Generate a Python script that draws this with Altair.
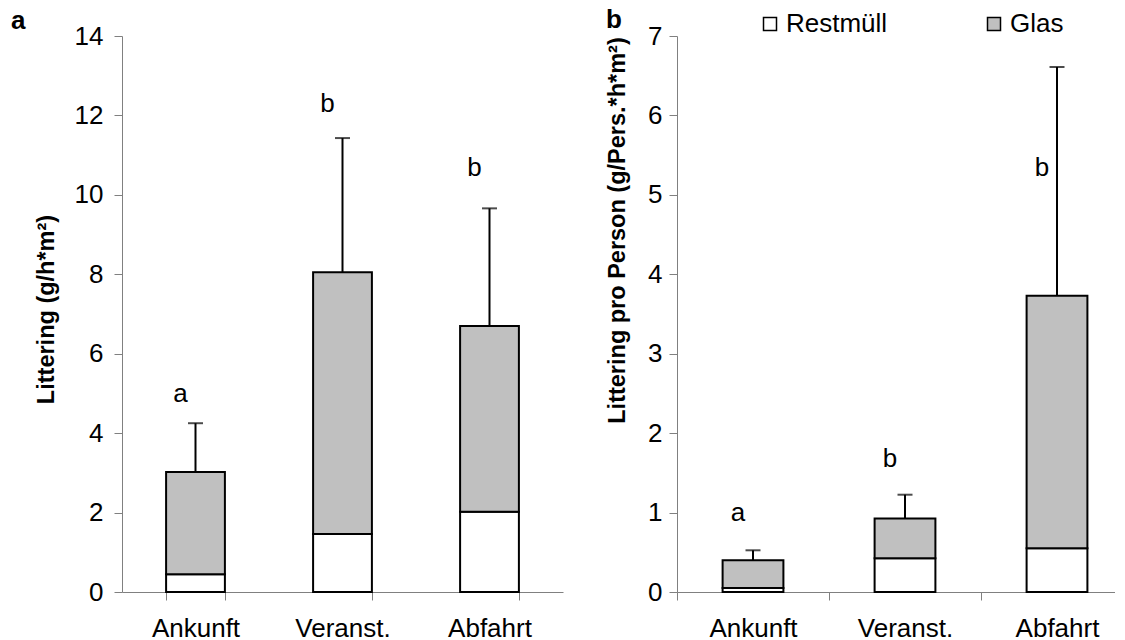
import altair as alt
import pandas as pd

categories = ["Ankunft", "Veranst.", "Abfahrt"]
series = ["Restmüll", "Glas"]
series_colors = ["#ffffff", "#c0c0c0"]

# Panel a: Littering (g/h*m²)
a_restmuell = [0.45, 1.46, 2.02]
a_glas = [2.57, 6.59, 4.68]
a_sd = [1.23, 3.38, 2.96]
a_letters = ["a", "b", "b"]
a_letter_y = [4.79, 12.09, 10.47]
a_ticks = [0, 2, 4, 6, 8, 10, 12, 14]

# Panel b: Littering pro Person (g/Pers.*h*m²)
b_restmuell = [0.05, 0.425, 0.55]
b_glas = [0.35, 0.50, 3.18]
b_sd = [0.125, 0.30, 2.88]
b_letters = ["a", "b", "b"]
b_letter_y = [0.90, 1.57, 5.24]
b_ticks = [0, 1, 2, 3, 4, 5, 6, 7]

FONT = "Liberation Sans"
FS = 26
TFS = 23.5
GRAY = "#808080"


def panel(rest, glas, sd, letters, letter_y, ticks, ytitle, ptitle, xscale,
          xaxis, title_x, title_y, label_pad, title_dx, title_dy, legend, w, h):
    bars_df = pd.DataFrame({
        "cat": categories * 2,
        "serie": [series[0]] * 3 + [series[1]] * 3,
        "value": list(rest) + list(glas),
        "ord": [0] * 3 + [1] * 3,
    })
    totals = [r + g for r, g in zip(rest, glas)]
    sum_df = pd.DataFrame({
        "cat": categories,
        "total": totals,
        "top": [t + s for t, s in zip(totals, sd)],
        "letter": letters,
        "ly": letter_y,
    })
    yscale = alt.Scale(domain=[ticks[0], ticks[-1]], nice=False, zero=True,
                       padding=0)
    x = alt.X("cat:N", sort=categories, scale=xscale, axis=xaxis, title=None)
    bars = alt.Chart(bars_df).mark_bar(stroke="black", strokeWidth=2).encode(
        x=x,
        y=alt.Y("value:Q", stack="zero", scale=yscale,
                axis=alt.Axis(values=ticks, format="d", grid=False, tickSize=8,
                              labelPadding=label_pad, labelFontSize=FS,
                              labelColor="black", domainColor=GRAY,
                              tickColor=GRAY, domainWidth=1, tickWidth=1,
                              title=ytitle, titleFontSize=TFS,
                              titleFontWeight="bold", titleColor="black",
                              titleAngle=-90, titleAlign="center",
                              titleBaseline="alphabetic",
                              titleX=title_x, titleY=title_y)),
        color=alt.Color("serie:N", sort=series,
                        scale=alt.Scale(domain=series, range=series_colors),
                        legend=legend),
        order=alt.Order("ord:Q"),
    )
    err = alt.Chart(sum_df).mark_rule(color="black", strokeWidth=2).encode(
        x=alt.X("cat:N", sort=categories),
        y=alt.Y("total:Q"),
        y2="top:Q",
    )
    cap = alt.Chart(sum_df).mark_tick(color="black", thickness=2, size=15).encode(
        x=alt.X("cat:N", sort=categories),
        y=alt.Y("top:Q"),
    )
    txt = alt.Chart(sum_df).mark_text(fontSize=FS, dx=-15, baseline="alphabetic",
                                      align="center", color="black").encode(
        x=alt.X("cat:N", sort=categories),
        y=alt.Y("ly:Q"),
        text="letter:N",
    )
    return alt.layer(bars, err, cap, txt).properties(
        width=w, height=h,
        title=alt.TitleParams(ptitle, anchor="start", frame="group",
                              fontSize=FS, fontWeight="bold", color="black",
                              dx=title_dx, dy=title_dy, offset=0,
                              baseline="alphabetic"),
    )


xa_scale = alt.Scale(paddingInner=0.6, paddingOuter=0.3, align=0.5, round=False)
xa_axis = alt.Axis(tickBand="extent", tickSize=8, labelPadding=15,
                   labelFontSize=FS, labelColor="black", labelAngle=0,
                   domainColor=GRAY, tickColor=GRAY, domainWidth=1, tickWidth=1)

# panel b is cut at the right edge: bands keep the step of 152 px
xb_scale = alt.Scale(paddingInner=0.6, paddingOuter=0.2408, align=0.623, round=False)
xb_axis = alt.Axis(tickOffset=-76, labelOffset=76, tickSize=8, labelPadding=15,
                   labelFontSize=FS, labelColor="black", labelAngle=0,
                   domainColor=GRAY, tickColor=GRAY, domainWidth=1, tickWidth=1)

legend_b = alt.Legend(orient="none", legendX=80, legendY=-25, direction="horizontal",
                      title=None, symbolType="square", symbolSize=169,
                      symbolStrokeColor="black", symbolStrokeWidth=1.5,
                      labelFontSize=FS, labelColor="black", labelOffset=3,
                      columnPadding=93, padding=0)

pa = panel(a_restmuell, a_glas, a_sd, a_letters, a_letter_y, a_ticks,
           "Littering (g/h*m²)", "a", xa_scale, xa_axis, -69, 273, 11, -111, 32,
           None, 441, 556)
pb = panel(b_restmuell, b_glas, b_sd, b_letters, b_letter_y, b_ticks,
           "Littering pro Person (g/Pers.*h*m²)", "b", xb_scale, xb_axis,
           -53, 194, 7, -71, 43, legend_b, 438, 556)

chart = alt.hconcat(pa, pb, spacing=114, bounds="flush").resolve_scale(
    color="independent").resolve_legend(color="independent").configure(
    font=FONT, padding={"left": 3, "top": -1, "right": 0, "bottom": 0}
).configure_view(stroke=None)

chart.save("out.html", embed_options={"renderer": "svg", "actions": False})
